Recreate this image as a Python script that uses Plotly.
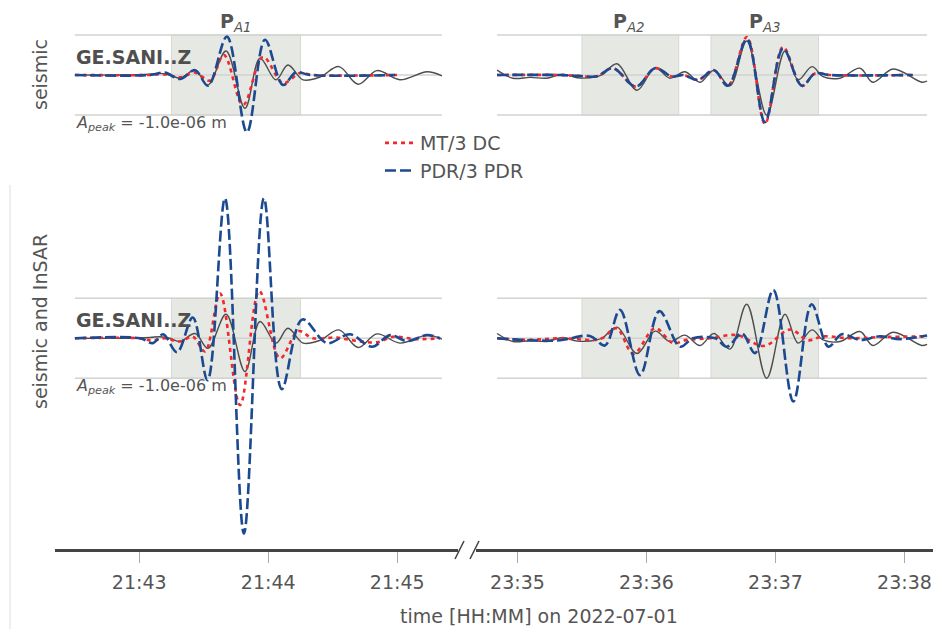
import pandas as pd
import plotly.graph_objects as go

# ---------------- data (seconds relative to reference minute, amplitude in units of A_peak) -------------
LEFT_REF = "2022-07-01 21:43:00"
RIGHT_REF = "2022-07-01 23:36:00"

# observed seismogram (same in both rows)
left_obs_sec = [-29.9, -8.9, 5.0, 9.7, 14.3, 19.0, 26.0, 32.0, 40.4, 49.2, 56.2, 63.6, 69.2, 76.2,
                84.1, 92.9, 101.8, 110.6, 121.3, 133.9, 140.8]
left_obs_val = [0, 0, 0.02, 0.04, 0.0, -0.08, 0.12, -0.25, 0.6, -0.83, 0.42, -0.12, 0.25, -0.12,
                -0.05, 0.21, -0.23, 0.11, -0.12, 0.08, -0.02]
right_obs_sec = [-69.5, -62.1, -54.2, -46.3, -38.8, -32.3, -23.0, -20.2, -13.7, -4.4, 4.0, 10.9, 17.9,
                 24.9, 31.4, 38.8, 46.6, 55.9, 64.4, 70.5, 77.0, 82.1, 90.0, 99.3, 105.3, 114.7, 128.1, 130.5]
right_obs_val = [0.12, -0.08, -0.06, -0.08, 0.02, -0.07, -0.04, 0.02, 0.28, -0.38, 0.18, -0.08, 0.08,
                 -0.18, 0.12, -0.27, 0.85, -1.0, 0.6, -0.12, 0.21, -0.04, -0.08, 0.17, -0.18, 0.15, -0.18, -0.15]

# top row (seismic) synthetics
left_mt_top_sec = [-29.9, 5.0, 11.1, 19.0, 26.0, 32.9, 39.4, 48.3, 57.6, 66.9, 74.8, 80.8, 119.9]
left_mt_top_val = [0, 0, 0.02, -0.06, 0.06, -0.14, 0.5, -0.75, 0.45, -0.2, 0.05, 0.0, 0.0]
left_pdr_top_sec = [-29.9, 5.0, 12.0, 19.0, 26.0, 32.0, 40.8, 50.1, 58.5, 66.9, 72.9, 79.4, 119.0]
left_pdr_top_val = [0, 0, 0.06, -0.1, 0.12, -0.27, 0.96, -1.43, 0.88, -0.25, 0.07, 0.0, 0.0]
right_top_sec = [-69.5, -40.2, -32.3, -23.0, -15.6, -4.9, 4.0, 11.9, 17.0, 24.0, 31.4, 37.9, 46.7,
                 55.1, 63.5, 72.3, 78.4, 85.3, 123.9]
right_mt_top_val = [0, 0, -0.02, -0.03, 0.17, -0.29, 0.17, -0.04, 0.0, -0.12, 0.12, -0.27, 0.95,
                    -1.22, 0.7, -0.27, 0.04, 0.0, 0.0]
right_pdr_top_val = [0, 0, -0.02, -0.03, 0.17, -0.29, 0.17, -0.04, 0.0, -0.12, 0.12, -0.27, 0.9,
                     -1.18, 0.66, -0.27, 0.04, 0.0, 0.0]

# bottom row (seismic and InSAR) synthetics
left_mt_bot_sec = [-29.9, 0.4, 6.4, 12.0, 19.0, 25.0, 30.6, 37.6, 46.9, 55.9, 65.5, 74.0, 80.8, 92.0,
                   98.0, 110.6, 118.0, 128.3, 139.9]
left_mt_bot_val = [0, 0, -0.06, 0.0, -0.08, 0.04, -0.33, 1.12, -1.67, 1.18, -0.5, 0.18, 0.0, 0.02,
                   -0.04, -0.1, 0.04, -0.02, 0.0]
left_pdr_bot_sec = [-29.9, 0.4, 6.4, 11.1, 17.6, 24.9, 31.8, 39.9, 48.7, 58.0, 66.3, 75.9, 87.3, 98.0,
                    108.3, 116.7, 124.6, 133.9, 139.9]
left_pdr_bot_val = [0, 0, -0.12, 0.1, -0.35, 0.52, -1.05, 3.5, -4.88, 3.5, -1.27, 0.47, -0.12, 0.1,
                    -0.21, 0.08, -0.07, 0.08, 0.0]
right_mt_bot_sec = [-69.5, -54.2, -40.2, -24.9, -20.7, -13.9, -6.1, 4.0, 12.3, 18.8, 29.5, 42.1, 54.7,
                    66.8, 75.1, 82.1, 94.7, 108.6, 130.5]
right_mt_bot_val = [0, -0.04, 0.0, -0.04, 0.0, 0.25, -0.39, 0.25, -0.12, -0.04, 0.0, 0.08, -0.19,
                    0.22, -0.05, 0.05, 0.0, 0.03, 0.05]
right_pdr_bot_sec = [-69.5, -54.2, -40.2, -26.3, -19.3, -12.3, -3.0, 6.0, 15.6, 21.6, 32.0, 37.4, 44.4,
                     50.5, 59.0, 68.3, 76.8, 84.6, 90.8, 99.3, 108.6, 117.9, 130.5]
right_pdr_bot_val = [0, -0.05, -0.05, 0.06, -0.18, 0.71, -0.92, 0.68, -0.21, 0.0, 0.0, -0.21, 0.12,
                     -0.37, 1.21, -1.58, 0.85, -0.21, 0.1, -0.04, 0.05, -0.02, 0.07]

# phase windows (start, end, label)
windows_left = [("2022-07-01 21:43:15", "2022-07-01 21:44:15", "<b>P</b><sub><i>A1</i></sub>")]
windows_right = [("2022-07-01 23:35:30", "2022-07-01 23:36:15", "<b>P</b><sub><i>A2</i></sub>"),
                 ("2022-07-01 23:36:30", "2022-07-01 23:37:20", "<b>P</b><sub><i>A3</i></sub>")]
left_span = ("2022-07-01 21:42:30.1", "2022-07-01 21:45:20.8")
right_span = ("2022-07-01 23:34:50.5", "2022-07-01 23:38:10.5")

station = "GE.SANI..Z"
apeak_text = "<i>A</i><sub><i>peak</i></sub> = -1.0e-06 m"
legend_mt = "MT/3 DC"
legend_pdr = "PDR/3 PDR"

# ---------------- style ----------------
FONT = "DejaVu Sans"
TXT = "#555555"
C_OBS = "#4d4d4d"
C_MT = "#f2282c"
C_PDR = "#1c4a91"
OFF = 8                      # page body margin
W, H = 941 - 2 * OFF, 637 - 2 * OFF


def px(x):
    """window pixel x -> paper fraction"""
    return (x - OFF) / W


def py(y):
    """window pixel y -> paper fraction"""
    return 1 - (y - OFF) / H


def tt(ref, secs):
    base = pd.Timestamp(ref)
    return [base + pd.Timedelta(seconds=s) for s in secs]


fig = go.Figure()

panels = [
    ("x3", "y3", LEFT_REF, (left_obs_sec, left_obs_val), (left_mt_top_sec, left_mt_top_val),
     (left_pdr_top_sec, left_pdr_top_val), True),
    ("x4", "y4", RIGHT_REF, (right_obs_sec, right_obs_val), (right_top_sec, right_mt_top_val),
     (right_top_sec, right_pdr_top_val), False),
    ("x", "y", LEFT_REF, (left_obs_sec, left_obs_val), (left_mt_bot_sec, left_mt_bot_val),
     (left_pdr_bot_sec, left_pdr_bot_val), False),
    ("x2", "y2", RIGHT_REF, (right_obs_sec, right_obs_val), (right_mt_bot_sec, right_mt_bot_val),
     (right_pdr_bot_sec, right_pdr_bot_val), False),
]

for xa, ya, ref, obs, mt, pdr, show in panels:
    fig.add_trace(go.Scatter(x=tt(ref, obs[0]), y=obs[1], xaxis=xa, yaxis=ya, mode="lines",
                             line=dict(color=C_OBS, width=1.4, shape="spline"),
                             showlegend=False, hoverinfo="skip"))
    fig.add_trace(go.Scatter(x=tt(ref, mt[0]), y=mt[1], xaxis=xa, yaxis=ya, mode="lines",
                             name=legend_mt, legendgroup="mt", showlegend=show,
                             line=dict(color=C_MT, width=2.6, dash="4px,4px", shape="spline")))
    fig.add_trace(go.Scatter(x=tt(ref, pdr[0]), y=pdr[1], xaxis=xa, yaxis=ya, mode="lines",
                             name=legend_pdr, legendgroup="pdr", showlegend=show,
                             line=dict(color=C_PDR, width=2.6, dash="11px,4px", shape="spline")))

shapes = []
for xref, yref, wins, span in [("x3", "y3", windows_left, left_span), ("x4", "y4", windows_right, right_span),
                               ("x", "y", windows_left, left_span), ("x2", "y2", windows_right, right_span)]:
    for w0, w1, _ in wins:
        shapes.append(dict(type="rect", xref=xref, yref=yref, x0=w0, x1=w1, y0=-1, y1=1,
                           fillcolor="#e6e8e3", line=dict(color="#d6d9d2", width=1), layer="below"))
    for g in (-1, 0, 1):
        shapes.append(dict(type="line", xref=xref, yref=yref, x0=span[0], x1=span[1], y0=g, y1=g,
                           line=dict(color="#d2d2d0", width=1.5), layer="below"))

# axis break marks and left border line
shapes.append(dict(type="line", xref="paper", yref="paper", x0=px(455), x1=px(464), y0=py(559), y1=py(541),
                   line=dict(color="#444444", width=1.5)))
shapes.append(dict(type="line", xref="paper", yref="paper", x0=px(470), x1=px(479), y0=py(559), y1=py(541),
                   line=dict(color="#444444", width=1.5)))
shapes.append(dict(type="line", xref="paper", yref="paper", x0=px(10), x1=px(10), y0=py(185), y1=0,
                   line=dict(color="#dddddd", width=1)))

annotations = []


def ann(**kw):
    base = dict(showarrow=False, xanchor="center", yanchor="middle")
    base.update(kw)
    annotations.append(base)


for label, ycen in [("seismic", 75), ("seismic and InSAR", 322)]:
    ann(text=label, xref="paper", yref="paper", x=px(40), y=py(ycen), textangle=-90,
        font=dict(family=FONT, size=19, color=TXT))
for ycen in (57, 320):
    ann(text="<b>%s</b>" % station, xref="paper", yref="paper", x=px(74), y=py(ycen), xanchor="left",
        font=dict(family=FONT, size=19, color="#4f4f4f"))
for ycen in (124, 386):
    ann(text=apeak_text, xref="paper", yref="paper", x=px(74), y=py(ycen), xanchor="left",
        font=dict(family=FONT, size=16, color=TXT))
for xref, wins in [("x3", windows_left), ("x4", windows_right)]:
    for w0, w1, lab in wins:
        mid = pd.Timestamp(w0) + (pd.Timestamp(w1) - pd.Timestamp(w0)) / 2
        ann(text=lab, xref=xref, yref="paper", x=mid, y=py(8), yanchor="top",
            font=dict(family=FONT, size=19, color=TXT))
ann(text="time [HH:MM] on 2022-07-01", xref="paper", yref="paper", x=px(539), y=0, yanchor="bottom",
    font=dict(family=FONT, size=19, color=TXT))

left_dom = [px(55), px(458)]
right_dom = [px(476), 1.0]
left_range = ["2022-07-01 21:42:20.84", "2022-07-01 21:45:28.28"]
right_range = ["2022-07-01 23:34:40.70", "2022-07-01 23:38:13.26"]
bot_dom = [py(549), py(185)]
top_dom = [py(140), py(20)]
bot_range = [-(549 - 338.3) / 40, (338.3 - 185) / 40]
top_range = [-(140 - 75) / 40, (75 - 20) / 40]

xbase = dict(type="date", tickformat="%H:%M", dtick=60000, showgrid=False, zeroline=False,
             showline=True, linecolor="#444444", linewidth=2.5, ticks="outside", ticklen=11,
             tickwidth=1, tickcolor="#aaaaaa", tickfont=dict(family=FONT, size=19, color=TXT),
             ticklabelstandoff=3)
fig.update_layout(
    width=W, height=H, margin=dict(l=0, r=0, t=0, b=0),
    paper_bgcolor="white", plot_bgcolor="white",
    font=dict(family=FONT, color=TXT),
    xaxis=dict(domain=left_dom, range=left_range, anchor="y", tick0="2022-07-01 21:43:00", **xbase),
    xaxis2=dict(domain=right_dom, range=right_range, anchor="y2", tick0="2022-07-01 23:35:00", **xbase),
    xaxis3=dict(domain=left_dom, range=left_range, anchor="y3", type="date", visible=False),
    xaxis4=dict(domain=right_dom, range=right_range, anchor="y4", type="date", visible=False),
    yaxis=dict(domain=bot_dom, range=bot_range, anchor="x", visible=False),
    yaxis2=dict(domain=bot_dom, range=bot_range, anchor="x2", visible=False),
    yaxis3=dict(domain=top_dom, range=top_range, anchor="x3", visible=False),
    yaxis4=dict(domain=top_dom, range=top_range, anchor="x4", visible=False),
    shapes=shapes, annotations=annotations,
    legend=dict(x=px(380), y=py(124), xanchor="left", yanchor="top", bgcolor="rgba(0,0,0,0)",
                font=dict(family=FONT, size=19, color=TXT), tracegroupgap=0),
    showlegend=True,
)

fig.write_html("out.html")
